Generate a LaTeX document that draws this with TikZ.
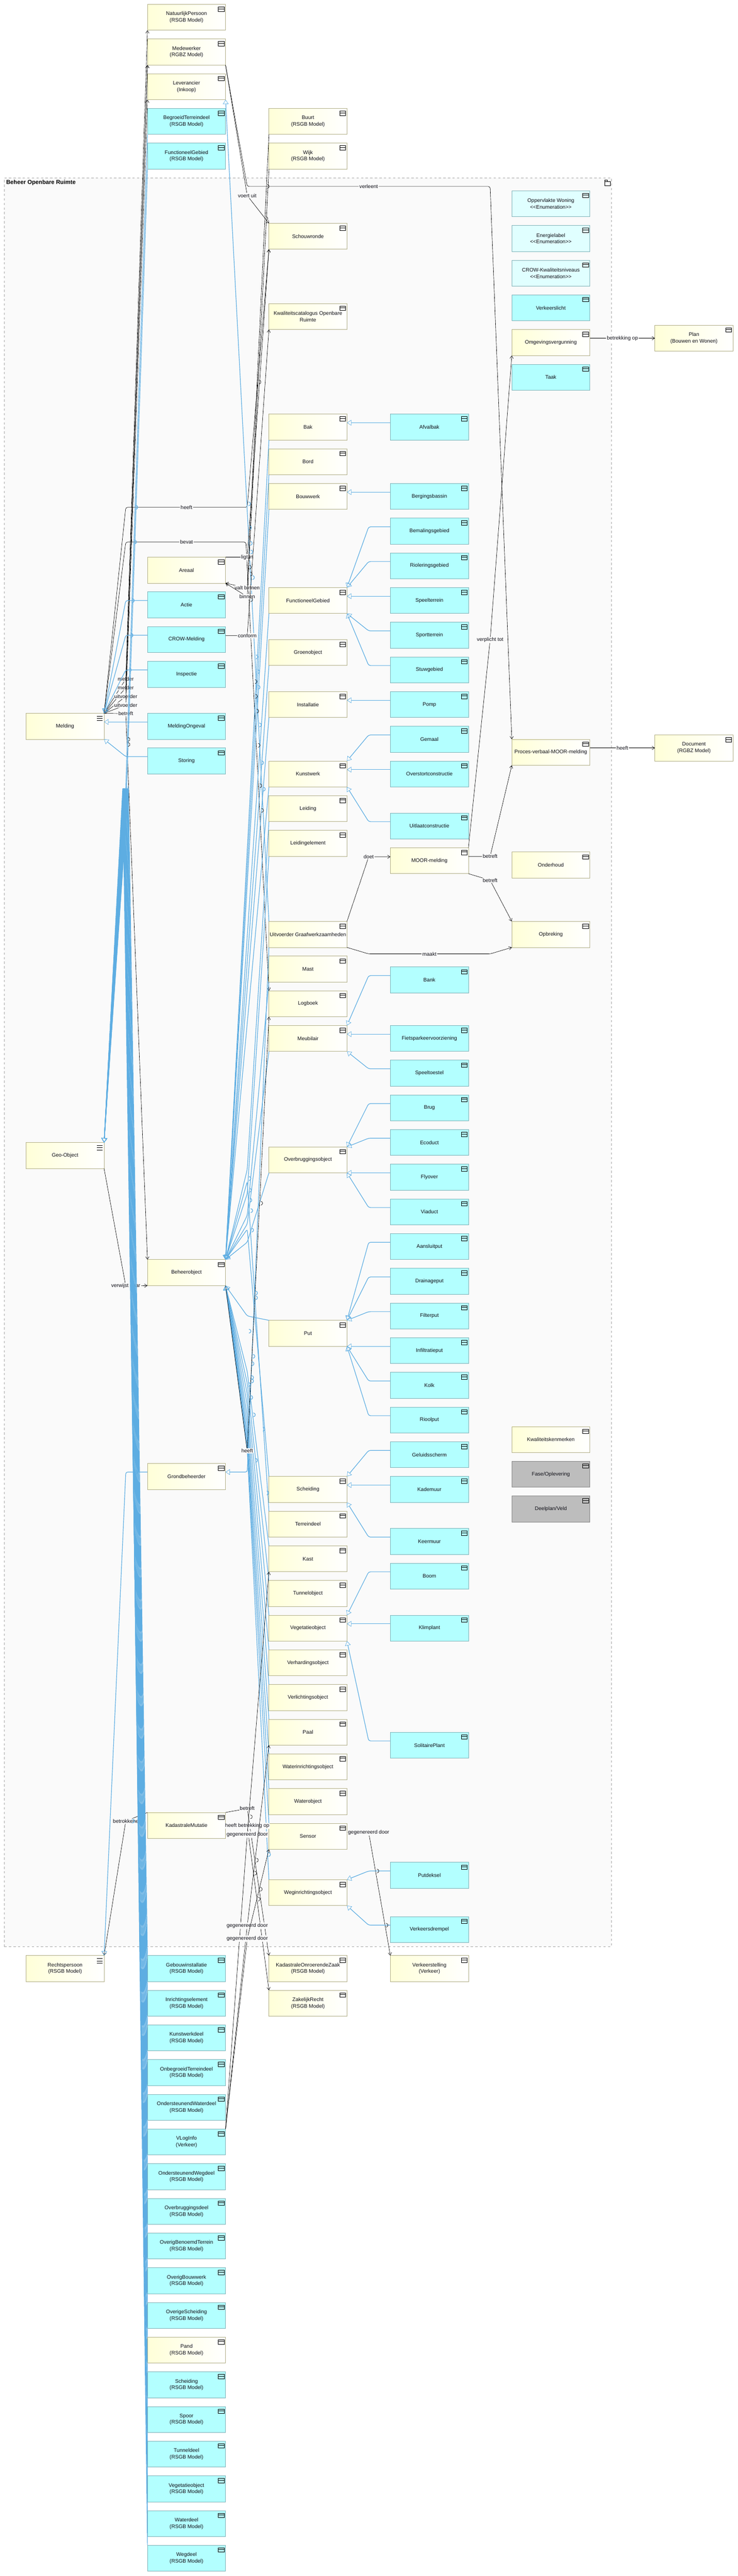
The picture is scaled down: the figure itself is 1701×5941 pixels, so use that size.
\documentclass[tikz,border=0pt]{standalone}
\usepackage{fontspec}
\setmainfont{Liberation Sans}
\usetikzlibrary{arrows.meta,calc}
\definecolor{bgc}{HTML}{FAFAFA}
\definecolor{blu}{HTML}{5DADE2}
\definecolor{tipb}{HTML}{6DB6E8}
\definecolor{yelb}{HTML}{B2AF88}
\definecolor{cynb}{HTML}{7FB2B8}
\definecolor{yelf}{HTML}{FFFFD8}
\definecolor{cynf}{HTML}{B3FFFF}
\definecolor{lcyn}{HTML}{E0FFFF}
\definecolor{gryf}{HTML}{BDBDBD}
\definecolor{gryb}{HTML}{858585}
\definecolor{txt}{HTML}{101018}
\tikzset{
 x=0.02cm,y=-0.02cm,
 boxbase/.style={rectangle,inner sep=0pt,outer sep=0pt,minimum width=3.6cm,minimum height=1.2cm,align=center,line width=0.567pt,text=txt,font=\fontsize{6.8}{8.5}\selectfont},
 yel/.style={boxbase,draw=yelb,left color=yelf,right color=white},
 cyn/.style={boxbase,draw=cynb,fill=cynf},
 lcy/.style={boxbase,draw=cynb,fill=lcyn},
 gry/.style={boxbase,draw=gryb,fill=gryf},
 iconline/.style={draw=black,line width=0.4pt},
 genline/.style={draw=blu,line width=0.8pt,rounded corners=2.5pt,-{Triangle[open,length=5.7pt,width=7.5pt,line width=0.45pt]}},
 assocline/.style={draw=black,line width=0.42pt,rounded corners=2.5pt,-{Straight Barb[length=3.5pt,width=4.5pt,line width=0.4pt]}},
 lbl/.style={fill=bgc,inner sep=1pt,text=txt,font=\fontsize{6.8}{8.5}\selectfont},
 lblw/.style={fill=white,inner sep=1pt,text=txt,font=\fontsize{6.8}{8.5}\selectfont},
 bumpb/.style={draw=blu,line width=0.8pt},
 bumpk/.style={draw=black,line width=0.42pt},
}
\newcommand\bx[5]{%
 \node[#4,anchor=north west] (#1) at (#2,#3) {#5};
 \draw[iconline] ($(#1.north east)+(-16.7,6)$) rectangle ($(#1.north east)+(-3.3,16)$);
 \draw[iconline] ($(#1.north east)+(-16.7,10)$) -- ($(#1.north east)+(-3.3,10)$);
}
\newcommand\mx[5]{%
 \node[#4,anchor=north west] (#1) at (#2,#3) {#5};
 \foreach \d in {7,12,17}{\draw[iconline,line width=0.4pt] ($(#1.north east)+(-17,\d)$) -- ($(#1.north east)+(-4,\d)$);}
}
\begin{document}
\begin{tikzpicture}
\useasboundingbox (0,0) rectangle (1701,5941);
% container
\node[rectangle,draw=black!35,dashed,fill=bgc,line width=0.5pt,inner sep=0pt,outer sep=0pt,minimum width=28cm,minimum height=81.6cm,anchor=north west] (container) at (10,410) {};
\node[anchor=west,inner sep=0pt,text=black,font=\fontsize{7.6}{9}\selectfont\bfseries] (title) at (14,421) {Beheer Openbare Ruimte};
\draw[iconline,line width=0.4pt] (1394,419) rectangle (1407,428);
\draw[iconline,line width=0.4pt] (1394,419) rectangle (1400,415);
% column 1
\mx{Melding}{60}{1645}{yel}{Melding}
\mx{GeoObject}{60}{2635}{yel}{Geo-Object}
\mx{Rechtspersoon}{60}{4510}{yel}{Rechtspersoon\\(RSGB Model)}
% column 2
\bx{NatuurlijkPersoon}{340}{10}{yel}{NatuurlijkPersoon\\(RSGB Model)}
\bx{Medewerker}{340}{90}{yel}{Medewerker\\(RGBZ Model)}
\bx{Leverancier}{340}{170}{yel}{Leverancier\\(Inkoop)}
\bx{BegroeidTerreindeel}{340}{250}{cyn}{BegroeidTerreindeel\\(RSGB Model)}
\bx{FunctioneelGebiedR}{340}{330}{cyn}{FunctioneelGebied\\(RSGB Model)}
\bx{Areaal}{340}{1285}{yel}{Areaal}
\bx{Actie}{340}{1365}{cyn}{Actie}
\bx{CROWMelding}{340}{1445}{cyn}{CROW-Melding}
\bx{Inspectie}{340}{1525}{cyn}{Inspectie}
\bx{MeldingOngeval}{340}{1645}{cyn}{MeldingOngeval}
\bx{Storing}{340}{1725}{cyn}{Storing}
\bx{Beheerobject}{340}{2905}{yel}{Beheerobject}
\bx{Grondbeheerder}{340}{3375}{yel}{Grondbeheerder}
\bx{KadastraleMutatie}{340}{4180}{yel}{KadastraleMutatie}
\bx{Gebouwinstallatie}{340}{4510}{cyn}{Gebouwinstallatie\\(RSGB Model)}
\bx{Inrichtingselement}{340}{4590}{cyn}{Inrichtingselement\\(RSGB Model)}
\bx{Kunstwerkdeel}{340}{4670}{cyn}{Kunstwerkdeel\\(RSGB Model)}
\bx{OnbegroeidTerreindeel}{340}{4750}{cyn}{OnbegroeidTerreindeel\\(RSGB Model)}
\bx{OndersteunendWaterdeel}{340}{4830}{cyn}{OndersteunendWaterdeel\\(RSGB Model)}
\bx{VLogInfo}{340}{4910}{cyn}{VLogInfo\\(Verkeer)}
\bx{OndersteunendWegdeel}{340}{4990}{cyn}{OndersteunendWegdeel\\(RSGB Model)}
\bx{Overbruggingsdeel}{340}{5070}{cyn}{Overbruggingsdeel\\(RSGB Model)}
\bx{OverigBenoemdTerrein}{340}{5150}{cyn}{OverigBenoemdTerrein\\(RSGB Model)}
\bx{OverigBouwwerk}{340}{5230}{cyn}{OverigBouwwerk\\(RSGB Model)}
\bx{OverigeScheiding}{340}{5310}{cyn}{OverigeScheiding\\(RSGB Model)}
\bx{Pand}{340}{5390}{yel}{Pand\\(RSGB Model)}
\bx{ScheidingR}{340}{5470}{cyn}{Scheiding\\(RSGB Model)}
\bx{Spoor}{340}{5550}{cyn}{Spoor\\(RSGB Model)}
\bx{Tunneldeel}{340}{5630}{cyn}{Tunneldeel\\(RSGB Model)}
\bx{VegetatieobjectR}{340}{5710}{cyn}{Vegetatieobject\\(RSGB Model)}
\bx{Waterdeel}{340}{5790}{cyn}{Waterdeel\\(RSGB Model)}
\bx{Wegdeel}{340}{5870}{cyn}{Wegdeel\\(RSGB Model)}
% column 3
\bx{Buurt}{620}{250}{yel}{Buurt\\(RSGB Model)}
\bx{Wijk}{620}{330}{yel}{Wijk\\(RSGB Model)}
\bx{Schouwronde}{620}{515}{yel}{Schouwronde}
\bx{Kwaliteitscatalogus}{620}{700}{yel}{Kwaliteitscatalogus Openbare\\Ruimte}
\bx{Bak}{620}{955}{yel}{Bak}
\bx{Bord}{620}{1035}{yel}{Bord}
\bx{Bouwwerk}{620}{1115}{yel}{Bouwwerk}
\bx{FunctioneelGebied}{620}{1355}{yel}{FunctioneelGebied}
\bx{Groenobject}{620}{1475}{yel}{Groenobject}
\bx{Installatie}{620}{1595}{yel}{Installatie}
\bx{Kunstwerk}{620}{1755}{yel}{Kunstwerk}
\bx{Leiding}{620}{1835}{yel}{Leiding}
\bx{Leidingelement}{620}{1915}{yel}{Leidingelement}
\bx{Uitvoerder}{620}{2125}{yel}{Uitvoerder Graafwerkzaamheden}
\bx{Mast}{620}{2205}{yel}{Mast}
\bx{Logboek}{620}{2285}{yel}{Logboek}
\bx{Meubilair}{620}{2365}{yel}{Meubilair}
\bx{Overbruggingsobject}{620}{2645}{yel}{Overbruggingsobject}
\bx{Put}{620}{3045}{yel}{Put}
\bx{Scheiding}{620}{3405}{yel}{Scheiding}
\bx{Terreindeel}{620}{3485}{yel}{Terreindeel}
\bx{Kast}{620}{3565}{yel}{Kast}
\bx{Tunnelobject}{620}{3645}{yel}{Tunnelobject}
\bx{Vegetatieobject}{620}{3725}{yel}{Vegetatieobject}
\bx{Verhardingsobject}{620}{3805}{yel}{Verhardingsobject}
\bx{Verlichtingsobject}{620}{3885}{yel}{Verlichtingsobject}
\bx{Paal}{620}{3965}{yel}{Paal}
\bx{Waterinrichtingsobject}{620}{4045}{yel}{Waterinrichtingsobject}
\bx{Waterobject}{620}{4125}{yel}{Waterobject}
\bx{Sensor}{620}{4205}{yel}{Sensor}
\bx{Weginrichtingsobject}{620}{4335}{yel}{Weginrichtingsobject}
\bx{KadastraleOnroerendeZaak}{620}{4510}{yel}{KadastraleOnroerendeZaak\\(RSGB Model)}
\bx{ZakelijkRecht}{620}{4590}{yel}{ZakelijkRecht\\(RSGB Model)}
% column 4
\bx{Afvalbak}{900}{955}{cyn}{Afvalbak}
\bx{Bergingsbassin}{900}{1115}{cyn}{Bergingsbassin}
\bx{Bemalingsgebied}{900}{1195}{cyn}{Bemalingsgebied}
\bx{Rioleringsgebied}{900}{1275}{cyn}{Rioleringsgebied}
\bx{Speelterrein}{900}{1355}{cyn}{Speelterrein}
\bx{Sportterrein}{900}{1435}{cyn}{Sportterrein}
\bx{Stuwgebied}{900}{1515}{cyn}{Stuwgebied}
\bx{Pomp}{900}{1595}{cyn}{Pomp}
\bx{Gemaal}{900}{1675}{cyn}{Gemaal}
\bx{Overstortconstructie}{900}{1755}{cyn}{Overstortconstructie}
\bx{Uitlaatconstructie}{900}{1875}{cyn}{Uitlaatconstructie}
\bx{MOORmelding}{900}{1955}{yel}{MOOR-melding}
\bx{Bank}{900}{2230}{cyn}{Bank}
\bx{Fietsparkeervoorziening}{900}{2365}{cyn}{Fietsparkeervoorziening}
\bx{Speeltoestel}{900}{2445}{cyn}{Speeltoestel}
\bx{Brug}{900}{2525}{cyn}{Brug}
\bx{Ecoduct}{900}{2605}{cyn}{Ecoduct}
\bx{Flyover}{900}{2685}{cyn}{Flyover}
\bx{Viaduct}{900}{2765}{cyn}{Viaduct}
\bx{Aansluitput}{900}{2845}{cyn}{Aansluitput}
\bx{Drainageput}{900}{2925}{cyn}{Drainageput}
\bx{Filterput}{900}{3005}{cyn}{Filterput}
\bx{Infiltratieput}{900}{3085}{cyn}{Infiltratieput}
\bx{Kolk}{900}{3165}{cyn}{Kolk}
\bx{Rioolput}{900}{3245}{cyn}{Rioolput}
\bx{Geluidsscherm}{900}{3325}{cyn}{Geluidsscherm}
\bx{Kademuur}{900}{3405}{cyn}{Kademuur}
\bx{Keermuur}{900}{3525}{cyn}{Keermuur}
\bx{Boom}{900}{3605}{cyn}{Boom}
\bx{Klimplant}{900}{3725}{cyn}{Klimplant}
\bx{SolitairePlant}{900}{3995}{cyn}{SolitairePlant}
\bx{Putdeksel}{900}{4295}{cyn}{Putdeksel}
\bx{Verkeersdrempel}{900}{4420}{cyn}{Verkeersdrempel}
\bx{Verkeerstelling}{900}{4510}{yel}{Verkeerstelling\\(Verkeer)}
% column 5
\bx{OppervlakteWoning}{1180}{440}{lcy}{Oppervlakte Woning\\{<}{<}Enumeration{>}{>}}
\bx{Energielabel}{1180}{520}{lcy}{Energielabel\\{<}{<}Enumeration{>}{>}}
\bx{CROWKwaliteitsniveaus}{1180}{600}{lcy}{CROW-Kwaliteitsniveaus\\{<}{<}Enumeration{>}{>}}
\bx{Verkeerslicht}{1180}{680}{cyn}{Verkeerslicht}
\bx{Omgevingsvergunning}{1180}{760}{yel}{Omgevingsvergunning}
\bx{Taak}{1180}{840}{cyn}{Taak}
\bx{ProcesVerbaal}{1180}{1705}{yel}{Proces-verbaal-MOOR-melding}
\bx{Onderhoud}{1180}{1965}{yel}{Onderhoud}
\bx{Opbreking}{1180}{2125}{yel}{Opbreking}
\bx{Kwaliteitskenmerken}{1180}{3290}{yel}{Kwaliteitskenmerken}
\bx{FaseOplevering}{1180}{3370}{gry}{Fase/Oplevering}
\bx{DeelplanVeld}{1180}{3450}{gry}{Deelplan/Veld}
% column 6
\bx{Plan}{1510}{750}{yel}{Plan\\(Bouwen en Wonen)}
\bx{Document}{1510}{1695}{yel}{Document\\(RGBZ Model)}
% ---- black associations, left side
\draw[assocline] (Melding.north east) -- (290,1566) node[lbl]{melder} -- (NatuurlijkPersoon.south west);
\draw[assocline] (Melding.north east) -- (290,1586) node[lbl]{melder} -- (Medewerker.south west);
\draw[assocline] (Melding.north east) -- (290,1606) node[lbl]{uitvoerder} -- (Medewerker.south west);
\draw[assocline] (Melding.north east) -- (290,1626) node[lbl]{uitvoerder} -- (Leverancier.south west);
\draw[assocline] (Melding.north east) -- (290,1646) node[lbl]{betreft} -- (Beheerobject.north west);
\draw[assocline] (Melding.north east) -- (290,1170) -- (430,1170) node[lbl]{heeft} -- (570,1170) -- (Schouwronde.south west);
\draw[assocline] (Melding.north east) -- (290,1250) -- (430,1250) node[lbl]{bevat} -- (567,1250) -- (Logboek.north west);
\draw[assocline] (GeoObject.south east) -- (290,2966) node[lbl]{verwijst naar} -- (Beheerobject.south west);
\draw[assocline] (KadastraleMutatie.north west) -- (290,4200) node[lbl]{betrokkene} -- (Rechtspersoon.north east);
% ---- blue generalisations to Melding
\foreach \s/\y in {Actie/1385,CROWMelding/1465,Inspectie/1545}{
 \draw[genline] (\s.west|-0,\y) -- (290,\y) -- (Melding.north east);
}
\draw[genline] (MeldingOngeval.west|-0,1665) -- (Melding.east|-0,1665);
\draw[genline] (Storing.west|-0,1745) -- (290,1745) -- (Melding.south east);
% ---- blue bundle to Geo-Object
\draw[genline] (BegroeidTerreindeel.south west) -- (290,1816) -- (GeoObject.north east);
\draw[genline] (FunctioneelGebiedR.south west) -- (292,1816) -- (GeoObject.north east);
\foreach \s/\c in {Gebouwinstallatie/296,Inrichtingselement/295,Kunstwerkdeel/294,OnbegroeidTerreindeel/293,OndersteunendWaterdeel/292,VLogInfo/291,OndersteunendWegdeel/290,Overbruggingsdeel/289,OverigBenoemdTerrein/288,OverigBouwwerk/287,OverigeScheiding/286,Pand/285,ScheidingR/284,Spoor/283,Tunneldeel/284,VegetatieobjectR/285,Waterdeel/286,Wegdeel/287}{
 \draw[genline] (\s.north west) -- (\c,1816) -- (GeoObject.north east);
}
% ---- Grondbeheerder
\draw[genline] (Grondbeheerder.west|-0,3395) -- (290,3395) -- (Rechtspersoon.north east);
\draw[genline] (Uitvoerder.south west) -- (570,3395) -- (Grondbeheerder.east|-0,3395);
\draw[genline] (Uitvoerder.north west) -- (Leverancier.south east);
% ---- blue fan to Beheerobject (top)
\foreach \s in {Bak,Bord,Bouwwerk,FunctioneelGebied,Groenobject,Installatie,Kunstwerk}{
 \draw[genline] (\s.south west) -- (Beheerobject.north east);
}
\draw[genline] (Leiding.south west) -- (570,2697) -- (Beheerobject.north east);
\draw[genline] (Terreindeel.north west) -- (570,2725) -- (Beheerobject.north east);
\draw[genline] (Leidingelement.south west) -- (570,2753) -- (Beheerobject.north east);
\draw[genline] (Mast.south west) -- (570,2803) -- (Beheerobject.north east);
\draw[genline] (Meubilair.south west) -- (570,2823) -- (Beheerobject.north east);
\draw[genline] (Scheiding.north west) -- (570,2835) -- (Beheerobject.north east);
\draw[genline] (Overbruggingsobject.south west) -- (570,2865) -- (Beheerobject.north east);
% ---- blue fan to Beheerobject (bottom)
\draw[genline] (Put.north west) -- (570,3035) -- (Beheerobject.south east);
\foreach \s/\c in {Kast/3163,Tunnelobject/3190,Vegetatieobject/3215,Verhardingsobject/3240,Verlichtingsobject/3265,Paal/3285,Waterinrichtingsobject/3305,Waterobject/3320,Sensor/3335,Weginrichtingsobject/3345}{
 \draw[genline] (\s.north west) -- (570,\c) -- (Beheerobject.south east);
}
% ---- black associations, middle
\draw[assocline] (Beheerobject.south east) -- (570,3346) node[lbl]{heeft} -- (Logboek.south west);
\draw[assocline] (Medewerker.south east) -- (570,451) node[lbl]{voert uit} -- (Schouwronde.north west);
\draw[assocline] (Medewerker.south east) -- (570,430) -- (850,430) node[lbl]{verleent} -- (1130,430) -- (ProcesVerbaal.north west);
\draw[assocline] (Areaal.north east) -- (570,1285) node[lbl]{ligt in} -- (Schouwronde.south west);
\draw[assocline] (Buurt.south west) -- (570,1356) node[lbl]{valt binnen} -- (Areaal.south east);
\draw[assocline] (Wijk.south west) -- (570,1376) node[lbl]{binnen} -- (Areaal.south east);
\draw[assocline] (CROWMelding.east|-0,1466) -- (570,1466) node[lbl]{conform} -- (Kwaliteitscatalogus.south west);
\draw[assocline] (KadastraleMutatie.north east) -- (570,4171) node[lbl]{betreft} -- (KadastraleOnroerendeZaak.north west);
\draw[assocline] (KadastraleMutatie.east|-0,4211) -- (570,4211) node[lbl]{heeft betrekking op} -- (ZakelijkRecht.north west);
\draw[assocline] (VLogInfo.north east) -- (570,4231) node[lbl]{gegenereerd door} -- (Kast.south west);
\draw[assocline] (VLogInfo.north east) -- (570,4441) node[lbl]{gegenereerd door} -- (Paal.south west);
\draw[assocline] (VLogInfo.north east) -- (570,4471) node[lbl]{gegenereerd door} -- (Sensor.south west);
\draw[assocline] (Sensor.east|-0,4226) -- (850,4226) node[lbl]{gegenereerd door} -- (Verkeerstelling.north west);
% ---- black associations, right
\draw[assocline] (Uitvoerder.north east) -- (850,1976) node[lbl]{doet} -- (MOORmelding.west|-0,1976);
\draw[assocline] (Uitvoerder.south east) -- (850,2200) -- (990,2200) node[lbl]{maakt} -- (1130,2200) -- (Opbreking.south west);
\draw[assocline] (MOORmelding.east|-0,1975) -- (1130,1975) node[lbl]{betreft} -- (ProcesVerbaal.south west);
\draw[assocline] (MOORmelding.south east) -- (1130,2030) node[lbl]{betreft} -- (Opbreking.north west);
\draw[assocline] (MOORmelding.north east) -- (1130,1476) node[lbl]{verplicht tot} -- (Omgevingsvergunning.south west);
\draw[assocline] (Omgevingsvergunning.east|-0,780) -- (1435,780) node[lblw]{betrekking op} -- (Plan.west|-0,780);
\draw[assocline] (ProcesVerbaal.east|-0,1725) -- (1435,1725) node[lblw]{heeft} -- (Document.west|-0,1725);
% ---- blue elbows col4 to col3
\foreach \s/\y/\t/\a in {Bemalingsgebied/1215/FunctioneelGebied/north east,Rioleringsgebied/1295/FunctioneelGebied/north east,Sportterrein/1455/FunctioneelGebied/south east,Stuwgebied/1535/FunctioneelGebied/south east,Gemaal/1695/Kunstwerk/north east,Uitlaatconstructie/1895/Kunstwerk/south east,Bank/2250/Meubilair/north east,Speeltoestel/2465/Meubilair/south east,Brug/2545/Overbruggingsobject/north east,Ecoduct/2625/Overbruggingsobject/north east,Viaduct/2785/Overbruggingsobject/south east,Aansluitput/2865/Put/north east,Drainageput/2945/Put/north east,Filterput/3025/Put/north east,Kolk/3185/Put/south east,Rioolput/3265/Put/south east,Geluidsscherm/3345/Scheiding/north east,Keermuur/3545/Scheiding/south east,Boom/3625/Vegetatieobject/north east,SolitairePlant/4015/Vegetatieobject/south east,Putdeksel/4315/Weginrichtingsobject/north east,Verkeersdrempel/4440/Weginrichtingsobject/south east}{
 \draw[genline] (\s.west|-0,\y) -- (850,\y) -- (\t.\a);
}
\foreach \s/\y/\t in {Afvalbak/975/Bak,Bergingsbassin/1135/Bouwwerk,Speelterrein/1375/FunctioneelGebied,Pomp/1615/Installatie,Overstortconstructie/1775/Kunstwerk,Fietsparkeervoorziening/2385/Meubilair,Flyover/2705/Overbruggingsobject,Infiltratieput/3105/Put,Kademuur/3425/Scheiding,Klimplant/3745/Vegetatieobject}{
 \draw[genline] (\s.west|-0,\y) -- (\t.east|-0,\y);
}
% ---- line jumps
\foreach \x/\y in {313/1170,310/1250,305/1385,302/1465,298/1545,573/1162,575/1217,577/1253,578/1273,582/1332,590/1515,594/1549,595/1585,598/1672,603/1759,607/1820,574/2718,575/2745,576/2768,578/2792,580/2837,589/2982,589/2993,574/3070,583/3128,581/3145,580/3177,580/3185,573/3193,578/3223,584/3263,606/3296,589/3368,615/3443,619/4277,313/3395,305/2965,305/4200}{
 \draw[bumpb] (\x,\y-4.5) .. controls (\x+6,\y-4.5) and (\x+6,\y+4.5) .. (\x,\y+4.5);
}
\foreach \x/\y in {295/1705,295/1717,575/1308,577/1324,578/1383,588/1572,589/1606,592/1640,595/1719,599/1812,603/1869,601/2775,577/4190,591/4290,587/4320,600/4357,595/4380,869/4315,890/4440,616/430,613/504,597/881}{
 \draw[bumpk] (\x,\y-4.5) .. controls (\x+6,\y-4.5) and (\x+6,\y+4.5) .. (\x,\y+4.5);
}
\end{tikzpicture}
\end{document}
